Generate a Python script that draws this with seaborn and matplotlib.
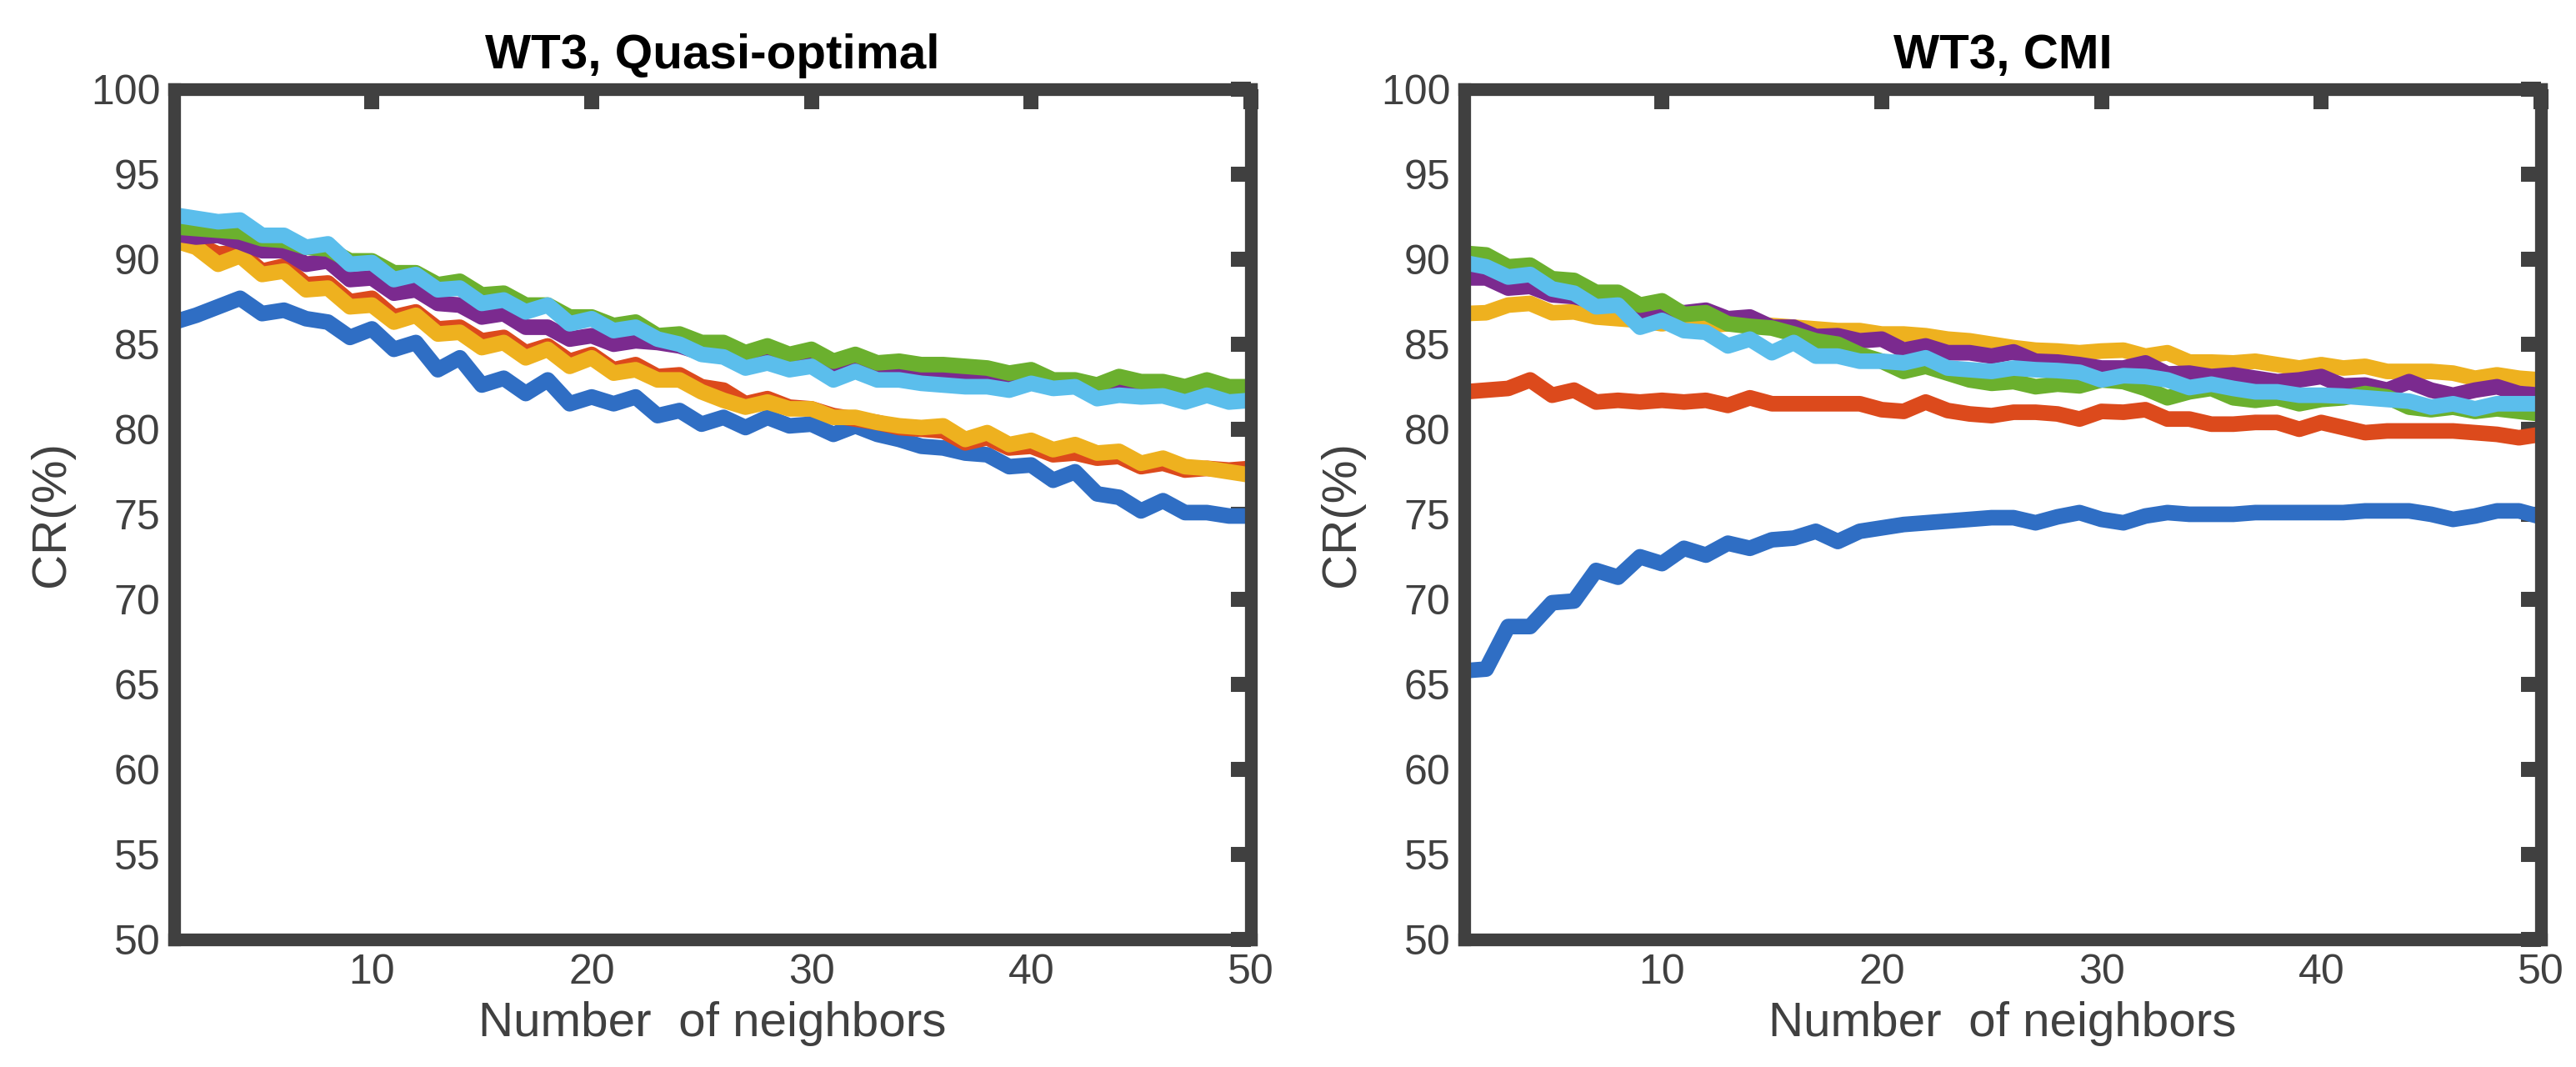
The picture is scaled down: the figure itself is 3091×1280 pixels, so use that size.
import pandas as pd
import numpy as np
import matplotlib
matplotlib.use("Agg")
import matplotlib.pyplot as plt
import seaborn as sns

sns.set_theme(style="white")
plt.rcParams['font.family'] = ['Liberation Sans', 'DejaVu Sans']

# number of neighbors
k = list(range(1, 51))
series = ['s1', 's2', 's3', 's4', 's5', 's6']
colors = ['#2F6EC4', '#DC4A1C', '#EEB11F', '#7B2A8F', '#6BB02E', '#5BBEEC']

# WT3, Quasi-optimal
qo_s1 = [86.3, 86.7, 87.2, 87.7, 86.8, 87.0, 86.5, 86.3, 85.4, 85.9, 84.7, 85.1, 83.5, 84.2, 82.6, 83.0, 82.1, 82.9, 81.5, 81.9, 81.5, 81.9, 80.8, 81.1, 80.3,
         80.7, 80.1, 80.7, 80.2, 80.3, 79.7, 80.2, 79.7, 79.4, 79.0, 78.9, 78.6, 78.5, 77.8, 77.9, 77.0, 77.5, 76.2, 76.0, 75.2, 75.8, 75.1, 75.1, 74.9, 74.9]
qo_s2 = [91.3, 90.9, 90.3, 90.4, 89.3, 89.6, 88.5, 88.6, 87.5, 87.7, 86.6, 86.9, 85.9, 86.0, 85.2, 85.4, 84.5, 84.9, 84.0, 84.4, 83.5, 83.8, 83.1, 83.2, 82.5,
         82.3, 81.5, 81.8, 81.3, 81.2, 80.8, 80.6, 80.4, 80.1, 80.0, 79.9, 79.2, 79.5, 78.9, 79.0, 78.5, 78.6, 78.3, 78.4, 77.8, 78.0, 77.6, 77.7, 77.6, 77.7]
qo_s3 = [91.1, 90.7, 89.7, 90.2, 89.1, 89.3, 88.2, 88.3, 87.2, 87.3, 86.3, 86.7, 85.6, 85.7, 84.8, 85.1, 84.2, 84.7, 83.7, 84.2, 83.3, 83.5, 82.9, 82.9, 82.2,
         81.7, 81.3, 81.6, 81.2, 81.2, 80.7, 80.7, 80.4, 80.2, 80.1, 80.2, 79.4, 79.8, 79.1, 79.35, 78.8, 79.1, 78.6, 78.7, 78.0, 78.3, 77.8, 77.7, 77.5, 77.3]
qo_s4 = [91.5, 91.3, 91.4, 91.0, 90.5, 90.5, 89.7, 89.9, 88.8, 88.9, 88.0, 88.2, 87.4, 87.3, 86.6, 86.8, 86.0, 86.0, 85.3, 85.5, 85.0, 85.2, 85.1, 84.9, 84.5,
         84.7, 84.1, 84.4, 84.0, 84.2, 83.5, 83.9, 83.4, 83.5, 83.3, 83.2, 83.1, 83.1, 82.8, 83.1, 82.7, 82.7, 82.2, 82.5, 82.4, 82.4, 82.1, 82.4, 82.1, 82.1]
qo_s5 = [91.9, 91.8, 91.7, 91.6, 91.2, 91.1, 90.7, 90.6, 89.9, 89.9, 89.2, 89.2, 88.5, 88.7, 87.9, 88.0, 87.3, 87.3, 86.6, 86.6, 86.1, 86.3, 85.5, 85.6, 85.1,
         85.1, 84.5, 84.9, 84.4, 84.7, 84.0, 84.4, 83.9, 84.0, 83.8, 83.8, 83.7, 83.6, 83.3, 83.5, 82.9, 82.9, 82.6, 83.1, 82.8, 82.8, 82.5, 82.9, 82.5, 82.5]
qo_s6 = [92.6, 92.4, 92.2, 92.3, 91.4, 91.4, 90.7, 90.9, 89.7, 89.8, 88.8, 89.1, 88.2, 88.3, 87.4, 87.6, 86.9, 87.3, 86.2, 86.5, 85.8, 86.0, 85.3, 85.0, 84.4,
         84.25, 83.6, 83.9, 83.5, 83.7, 82.9, 83.4, 82.9, 82.9, 82.7, 82.6, 82.5, 82.5, 82.3, 82.7, 82.4, 82.5, 81.8, 82.0, 81.9, 81.96, 81.6, 82.0, 81.6, 81.7]

# WT3, CMI
cmi_s1 = [65.8, 65.9, 68.4, 68.4, 69.8, 69.9, 71.7, 71.3, 72.5, 72.1, 73.0, 72.6, 73.3, 73.0, 73.5, 73.6, 74.0, 73.4, 74.0, 74.2, 74.4, 74.5, 74.6, 74.7, 74.8,
          74.8, 74.5, 74.85, 75.1, 74.7, 74.5, 74.9, 75.1, 75.0, 75.0, 75.0, 75.1, 75.1, 75.1, 75.1, 75.1, 75.2, 75.2, 75.2, 75.0, 74.7, 74.9, 75.2, 75.2, 74.85]
cmi_s2 = [82.2, 82.3, 82.4, 82.9, 82.0, 82.3, 81.6, 81.7, 81.6, 81.7, 81.6, 81.7, 81.4, 81.85, 81.5, 81.5, 81.5, 81.5, 81.5, 81.15, 81.05, 81.6, 81.1, 80.9, 80.8,
          81.0, 81.0, 80.9, 80.6, 81.05, 81.0, 81.15, 80.6, 80.6, 80.3, 80.3, 80.4, 80.4, 80.0, 80.4, 80.1, 79.8, 79.9, 79.9, 79.9, 79.9, 79.8, 79.7, 79.5, 79.7]
cmi_s3 = [86.8, 86.85, 87.3, 87.4, 86.85, 86.9, 86.6, 86.5, 86.4, 86.2, 86.4, 86.1, 86.2, 86.2, 86.1, 86.0, 85.9, 85.8, 85.8, 85.6, 85.6, 85.5, 85.3, 85.2, 85.0,
          84.8, 84.65, 84.6, 84.5, 84.6, 84.65, 84.3, 84.5, 83.95, 83.95, 83.9, 84.0, 83.8, 83.6, 83.8, 83.6, 83.7, 83.4, 83.4, 83.4, 83.3, 83.0, 83.2, 83.0, 82.9]
cmi_s4 = [88.9, 88.9, 88.3, 88.4, 87.9, 87.8, 87.5, 87.3, 86.9, 87.0, 86.85, 87.0, 86.5, 86.6, 86.0, 86.0, 85.45, 85.5, 85.2, 85.3, 84.65, 84.9, 84.5, 84.5, 84.3,
          84.55, 84.0, 83.95, 83.8, 83.6, 83.6, 83.9, 83.25, 83.3, 83.1, 83.2, 83.0, 82.8, 82.9, 83.1, 82.55, 82.6, 82.3, 82.8, 82.3, 82.0, 82.3, 82.5, 82.1, 82.0]
cmi_s5 = [90.35, 90.25, 89.55, 89.65, 88.85, 88.75, 88.05, 88.05, 87.3, 87.55, 86.75, 86.85, 86.2, 86.05, 85.95, 85.6, 85.2, 85.0, 84.4, 84.0, 83.4, 83.7, 83.3, 82.9, 82.7,
          82.8, 82.5, 82.65, 82.55, 82.9, 82.8, 82.4, 81.85, 82.2, 82.4, 81.85, 81.7, 81.85, 81.5, 81.75, 81.85, 82.1, 81.9, 81.3, 81.15, 81.3, 81.05, 81.2, 81.05, 80.9]
cmi_s6 = [89.8, 89.55, 88.95, 89.1, 88.25, 88.0, 87.2, 87.3, 86.0, 86.4, 85.8, 85.7, 84.9, 85.3, 84.5, 85.1, 84.3, 84.3, 84.0, 84.0, 83.9, 84.2, 83.6, 83.5, 83.4,
          83.6, 83.5, 83.45, 83.35, 82.9, 83.15, 83.1, 82.9, 82.45, 82.65, 82.4, 82.2, 82.2, 82.0, 82.0, 81.95, 81.85, 81.75, 81.65, 81.3, 81.5, 81.2, 81.5, 81.5, 81.5]

panels = [
    ('WT3, Quasi-optimal', [qo_s1, qo_s2, qo_s3, qo_s4, qo_s5, qo_s6]),
    ('WT3, CMI', [cmi_s1, cmi_s2, cmi_s3, cmi_s4, cmi_s5, cmi_s6]),
]

axis_col = '#404040'
fig = plt.figure(figsize=(30.91, 12.8), dpi=100)
lefts = [0.0676, 0.5684]

for (title, vals), left in zip(panels, lefts):
    ax = fig.add_axes([left, 0.1195, 0.418, 0.797])
    df = pd.DataFrame({
        'k': k * len(series),
        'cr': [v for s in vals for v in s],
        'series': [name for name in series for _ in k],
    })
    sns.lineplot(data=df, x='k', y='cr', hue='series', hue_order=series,
                 palette=colors, linewidth=13.5, legend=False, errorbar=None, ax=ax)
    ax.set_xlim(1, 50)
    ax.set_ylim(50, 100)
    ax.set_xticks([10, 20, 30, 40, 50])
    ax.set_yticks(np.arange(50, 101, 5))
    for sp in ax.spines.values():
        sp.set_visible(True)
        sp.set_linewidth(11)
        sp.set_color(axis_col)
    ax.tick_params(direction='in', length=17, width=13, top=True, right=True,
                   color=axis_col, labelcolor=axis_col, labelsize=36, pad=12)
    ax.set_title(title, fontsize=42, fontweight='bold', color='black', pad=18)
    ax.set_xlabel('Number  of neighbors', fontsize=42, color=axis_col, labelpad=8)
    ax.set_ylabel('CR(%)', fontsize=42, color=axis_col, labelpad=14)

plt.savefig('out.png', dpi=100)
plt.close()
